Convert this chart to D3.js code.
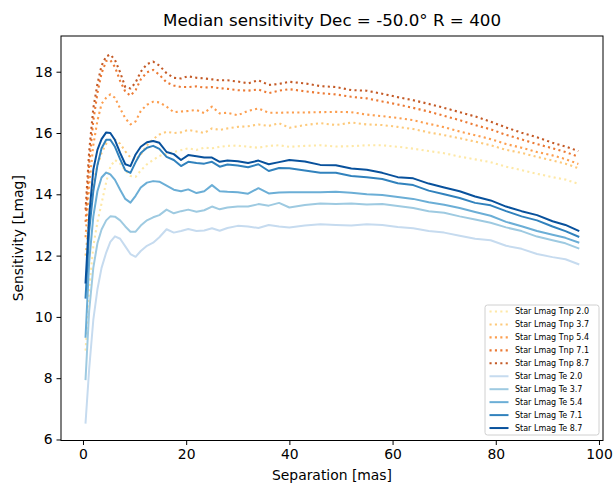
<!DOCTYPE html>
<html>
<head>
<meta charset="utf-8">
<script src="https://cdn.jsdelivr.net/npm/d3@7"></script>
<style>
  html, body { margin: 0; padding: 0; background: #fff; }
  svg { display: block; font-family: "DejaVu Sans", sans-serif; }
</style>
</head>
<body>
<svg id="chart" width="616" height="486"></svg>
<script>
// ---- data ----
const separation = [0.5, 1.2, 2, 2.8, 3.6, 4.5, 5.3, 6.2, 7.2, 8.2, 9.2, 10.2, 11.2, 12.4, 13.6, 14.8, 16.2, 17.6, 19.0, 20.4,
  22, 23.5, 25, 26.5, 28, 30, 32, 34, 36, 38, 40, 43, 46, 49, 52, 55, 58, 61, 64, 67, 70, 73, 76, 79, 82, 85, 88, 91, 93.5, 96];

const tnp20 = [8.9, 10.9, 12.3, 13.1, 13.7, 14.4, 14.9, 15.12, 15.0, 14.78, 14.6, 14.57, 14.78, 14.98, 15.12, 15.25, 15.32, 15.38, 15.44, 15.5,
  15.45, 15.52, 15.5, 15.55, 15.58, 15.59, 15.55, 15.52, 15.58, 15.6, 15.55, 15.58, 15.6, 15.56, 15.57, 15.6, 15.6, 15.55, 15.49, 15.41,
  15.34, 15.23, 15.14, 15.05, 14.9, 14.79, 14.67, 14.56, 14.48, 14.34];
const tnp37 = [12.0, 13.3, 14.3, 14.95, 15.35, 15.65, 15.78, 15.78, 15.65, 15.4, 15.2, 15.12, 15.3, 15.6, 15.8, 15.95, 16.04, 16.0, 16.02, 16.1,
  16.05, 16.0, 16.15, 16.1, 16.15, 16.2, 16.22, 16.28, 16.23, 16.32, 16.17, 16.26, 16.32, 16.26, 16.34, 16.28, 16.26, 16.2, 16.13, 16.02,
  15.93, 15.83, 15.72, 15.6, 15.45, 15.35, 15.22, 15.1, 15.0, 14.85];
const tnp54 = [12.6, 14.3, 15.6, 16.4, 16.95, 17.15, 17.26, 17.15, 16.8, 16.48, 16.28, 16.38, 16.72, 16.92, 17.02, 17.0, 16.86, 16.68, 16.7, 16.72,
  16.75, 16.65, 16.86, 16.64, 16.66, 16.58, 16.72, 16.8, 16.66, 16.66, 16.67, 16.67, 16.68, 16.69, 16.68, 16.6, 16.55, 16.49, 16.42, 16.3,
  16.19, 16.05, 15.93, 15.8, 15.64, 15.52, 15.38, 15.27, 15.15, 14.99];
const tnp71 = [13.1, 15.0, 16.4, 17.3, 17.95, 18.35, 18.38, 18.15, 17.7, 17.35, 17.22, 17.4, 17.75, 17.98, 18.06, 17.9, 17.65, 17.55, 17.5, 17.5,
  17.52, 17.48, 17.5, 17.46, 17.44, 17.4, 17.38, 17.42, 17.3, 17.38, 17.43, 17.36, 17.3, 17.26, 17.18, 17.13, 17.03, 16.93, 16.82, 16.7,
  16.56, 16.42, 16.26, 16.12, 15.94, 15.79, 15.64, 15.5, 15.38, 15.23];
const tnp87 = [13.5, 15.4, 16.8, 17.6, 18.2, 18.5, 18.56, 18.38, 17.98, 17.5, 17.45, 17.65, 18.0, 18.25, 18.33, 18.2, 17.95, 17.8, 17.78, 17.85,
  17.8, 17.78, 17.75, 17.72, 17.72, 17.68, 17.62, 17.72, 17.57, 17.6, 17.67, 17.62, 17.53, 17.5, 17.4, 17.38, 17.28, 17.17, 17.07, 16.95,
  16.82, 16.68, 16.54, 16.37, 16.18, 16.01, 15.86, 15.68, 15.56, 15.41];

const te20 = [6.55, 8.3, 9.9, 10.9, 11.6, 12.1, 12.45, 12.63, 12.55, 12.3, 12.05, 11.96, 12.15, 12.32, 12.42, 12.6, 12.86, 12.75, 12.8, 12.87,
  12.8, 12.82, 12.89, 12.81, 12.9, 12.97, 12.95, 12.9, 13.0, 12.95, 12.92, 12.98, 13.02, 13.0, 12.98, 13.02, 13.0, 12.93, 12.89, 12.8,
  12.75, 12.65, 12.55, 12.5, 12.32, 12.22, 12.05, 11.95, 11.88, 11.72];
const te37 = [7.97, 10.2, 11.6, 12.4, 12.85, 13.15, 13.28, 13.27, 13.15, 12.95, 12.78, 12.78, 12.98, 13.15, 13.25, 13.32, 13.5, 13.38, 13.45, 13.5,
  13.43, 13.48, 13.6, 13.51, 13.57, 13.6, 13.6, 13.68, 13.63, 13.72, 13.57, 13.65, 13.7, 13.68, 13.7, 13.67, 13.68, 13.62, 13.55, 13.45,
  13.4, 13.28, 13.18, 13.07, 12.92, 12.8, 12.62, 12.5, 12.4, 12.24];
const te54 = [9.35, 11.8, 13.27, 14.1, 14.55, 14.71, 14.65, 14.47, 14.15, 13.85, 13.73, 13.95, 14.22, 14.38, 14.43, 14.41, 14.28, 14.15, 14.1, 14.16,
  14.04, 14.1, 14.3, 14.1, 14.08, 14.07, 14.02, 14.2, 14.03, 14.06, 14.07, 14.07, 14.07, 14.08, 14.05, 14.0, 13.98, 13.91, 13.85, 13.74,
  13.66, 13.55, 13.42, 13.3, 13.1, 12.96, 12.8, 12.68, 12.58, 12.43];
const te71 = [10.63, 12.8, 14.1, 14.95, 15.5, 15.78, 15.78, 15.55, 15.15, 14.78, 14.7, 15.05, 15.35, 15.52, 15.58, 15.48, 15.22, 15.12, 14.92, 15.06,
  15.02, 15.0, 15.06, 14.9, 14.97, 14.94, 14.88, 14.98, 14.76, 14.86, 14.85, 14.78, 14.7, 14.7, 14.6, 14.56, 14.5, 14.36, 14.3, 14.12,
  14.0, 13.88, 13.72, 13.64, 13.45, 13.28, 13.15, 12.95, 12.8, 12.62];
const te87 = [11.12, 13.3, 14.8, 15.45, 15.8, 16.02, 16.0, 15.77, 15.35, 14.98, 14.92, 15.3, 15.55, 15.7, 15.74, 15.68, 15.38, 15.31, 15.12, 15.28,
  15.24, 15.2, 15.2, 15.06, 15.1, 15.08, 15.02, 15.1, 14.98, 15.05, 15.12, 15.07, 14.96, 14.95, 14.84, 14.8, 14.7, 14.56, 14.52, 14.35,
  14.22, 14.1, 13.93, 13.8, 13.6, 13.45, 13.32, 13.12, 13.0, 12.81];

const seriesNames = ["Star Lmag Tnp 2.0", "Star Lmag Tnp 3.7", "Star Lmag Tnp 5.4", "Star Lmag Tnp 7.1", "Star Lmag Tnp 8.7",
  "Star Lmag Te 2.0", "Star Lmag Te 3.7", "Star Lmag Te 5.4", "Star Lmag Te 7.1", "Star Lmag Te 8.7"];
const seriesValues = [tnp20, tnp37, tnp54, tnp71, tnp87, te20, te37, te54, te71, te87];
const seriesColors = ["#fee8a6", "#fdc97a", "#fc9e4f", "#ec7a34", "#c45a26",
  "#c6dbef", "#9ecae1", "#6baed6", "#3182bd", "#08519c"];
const seriesDotted = [true, true, true, true, true, false, false, false, false, false];

const xTicks = [0, 20, 40, 60, 80, 100];
const yTicks = [6, 8, 10, 12, 14, 16, 18];
const titleText = "Median sensitivity Dec = -50.0° R = 400";
const xLabel = "Separation [mas]";
const yLabel = "Sensitivity [Lmag]";

// ---- layout ----
const plotL = 61, plotR = 603, plotT = 36, plotB = 440.5;
const svg = d3.select("#chart");

const x = d3.scaleLinear().domain([-4.26, 100.78]).range([plotL, plotR]);
const y = d3.scaleLinear().domain([5.967, 19.165]).range([plotB, plotT]);

svg.append("defs").append("clipPath").attr("id", "plotclip")
  .append("rect").attr("x", plotL).attr("y", plotT).attr("width", plotR - plotL).attr("height", plotB - plotT);

const line = d3.line().x(d => x(d[0])).y(d => y(d[1])).curve(d3.curveLinear);

const plot = svg.append("g").attr("clip-path", "url(#plotclip)");
seriesValues.forEach((vals, i) => {
  const pts = separation.map((s, k) => [s, vals[k]]);
  plot.append("path")
    .datum(pts)
    .attr("d", line)
    .attr("fill", "none")
    .attr("stroke", seriesColors[i])
    .attr("stroke-width", seriesDotted[i] ? 2.1 : 2.0)
    .attr("stroke-linejoin", "round")
    .attr("stroke-linecap", seriesDotted[i] ? "butt" : "square")
    .attr("stroke-dasharray", seriesDotted[i] ? "2.1,3.3" : null);
});

// axes
const xAxis = d3.axisBottom(x).tickValues(xTicks).tickSize(4.5).tickPadding(4).tickFormat(d3.format("d"));
const yAxis = d3.axisLeft(y).tickValues(yTicks).tickSize(4.5).tickPadding(4).tickFormat(d3.format("d"));

const gx = svg.append("g").attr("transform", `translate(0,${plotB})`).call(xAxis);
const gy = svg.append("g").attr("transform", `translate(${plotL},0)`).call(yAxis);
[gx, gy].forEach(g => {
  g.select(".domain").remove();
  g.selectAll(".tick line").attr("stroke", "#000").attr("stroke-width", 1);
  g.selectAll(".tick text").attr("fill", "#000").style("font-size", "13.9px").style("font-family", "DejaVu Sans");
});

// spines
svg.append("rect").attr("x", plotL).attr("y", plotT).attr("width", plotR - plotL).attr("height", plotB - plotT)
  .attr("fill", "none").attr("stroke", "#000").attr("stroke-width", 1);

// title & labels
svg.append("text").attr("x", (plotL + plotR) / 2).attr("y", 26).attr("text-anchor", "middle")
  .style("font-size", "16.7px").attr("fill", "#000").text(titleText);
svg.append("text").attr("x", (plotL + plotR) / 2).attr("y", 480).attr("text-anchor", "middle")
  .style("font-size", "13.9px").attr("fill", "#000").text(xLabel);
svg.append("text").attr("transform", `translate(23,${(plotT + plotB) / 2}) rotate(-90)`).attr("text-anchor", "middle")
  .style("font-size", "13.9px").attr("fill", "#000").text(yLabel);

// legend
const lg = svg.append("g");
const lx = 485, ly = 305, lw = 114, lh = 130;
lg.append("rect").attr("x", lx).attr("y", ly).attr("width", lw).attr("height", lh).attr("rx", 2.5)
  .attr("fill", "#fff").attr("fill-opacity", 0.8).attr("stroke", "#d0d0d0").attr("stroke-width", 1);
seriesNames.forEach((name, i) => {
  const cy = 311.5 + i * 12.95;
  lg.append("line").attr("x1", lx + 4.5).attr("x2", lx + 23.5).attr("y1", cy).attr("y2", cy)
    .attr("stroke", seriesColors[i]).attr("stroke-width", seriesDotted[i] ? 2.1 : 2.0)
    .attr("stroke-dasharray", seriesDotted[i] ? "2.1,3.3" : null);
  lg.append("text").attr("x", lx + 30).attr("y", cy + 2.9).style("font-size", "8px").attr("fill", "#000").text(name);
});
</script>
</body>
</html>
